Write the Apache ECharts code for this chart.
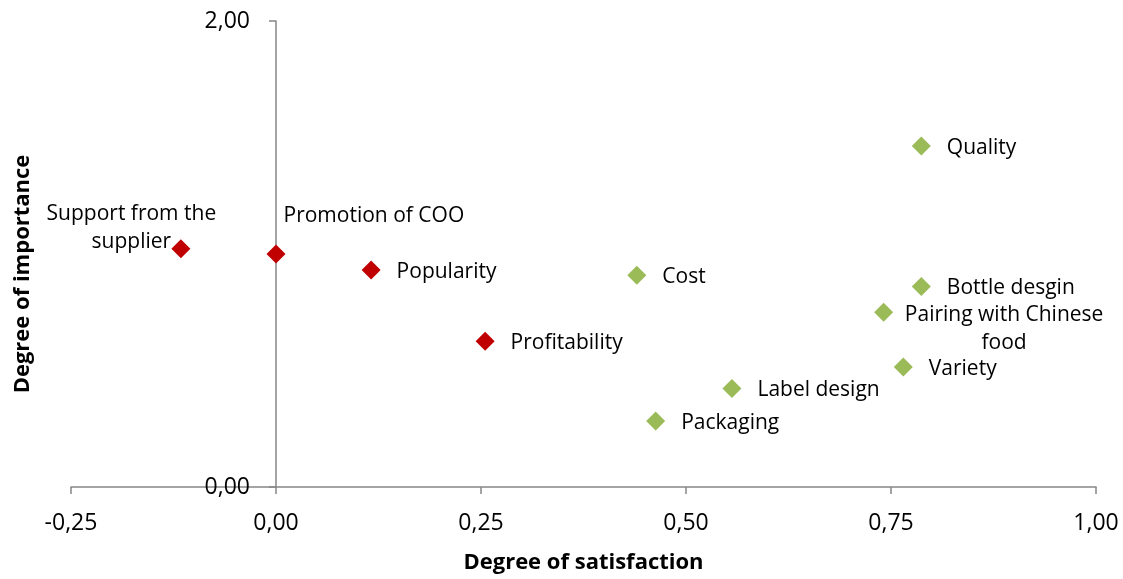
<!DOCTYPE html>
<html>
<head>
<meta charset="utf-8">
<script src="https://cdn.jsdelivr.net/npm/echarts@6/dist/echarts.min.js"></script>
<style>
  html, body { margin: 0; padding: 0; background: #fff; }
  #chart { width: 1123px; height: 579px; }
</style>
</head>
<body>
<div id="chart"></div>
<script>
// Attributes rated by satisfaction (x) and importance (y)
const weakNames = ['Support from the\nsupplier', 'Promotion of COO', 'Popularity', 'Profitability'];
const weakSatisfaction = [-0.116, 0.000, 0.116, 0.255];
const weakImportance = [1.023, 1.000, 0.931, 0.626];

const strongNames = ['Cost', 'Quality', 'Bottle desgin', 'Pairing with Chinese\nfood', 'Variety', 'Label design', 'Packaging'];
const strongSatisfaction = [0.440, 0.787, 0.787, 0.741, 0.765, 0.556, 0.463];
const strongImportance = [0.909, 1.464, 0.861, 0.750, 0.515, 0.423, 0.283];

const xTicks = { min: -0.25, max: 1.0, interval: 0.25 };
const yTicks = { min: 0, max: 2, interval: 2 };

const FONT = '"Open Sans", sans-serif';
const axisColor = '#868686';
const fmt = v => v.toFixed(2).replace('.', ',');

const gridLeft = 71, gridRight = 27;
const plotWidth = 1123 - gridLeft - gridRight;
// the vertical axis crosses the horizontal one at x = 0
const yAxisShift = -plotWidth * (0 - xTicks.min) / (xTicks.max - xTicks.min);

// Labels that don't sit plainly to the right of their marker
const labelOverrides = {
  'Support from the\nsupplier': { position: [-40, -13], align: 'center', verticalAlign: 'middle' },
  'Promotion of COO': { position: [17, -30], align: 'left', verticalAlign: 'middle' },
  'Pairing with Chinese\nfood': { position: [130, 24], align: 'center', verticalAlign: 'middle' }
};

function buildData(names, xs, ys) {
  return names.map((n, i) => {
    const item = { name: n, value: [xs[i], ys[i]] };
    if (labelOverrides[n]) item.label = labelOverrides[n];
    return item;
  });
}

const labelStyle = {
  show: true,
  position: 'right',
  distance: 16,
  offset: [0, 2],
  formatter: p => p.name,
  color: '#000',
  fontFamily: FONT,
  fontSize: 21,
  lineHeight: 28
};

const chart = echarts.init(document.getElementById('chart'));
chart.setOption({
  animation: false,
  backgroundColor: '#fff',
  grid: { left: gridLeft, right: gridRight, top: 21, bottom: 90 },
  xAxis: {
    type: 'value',
    min: xTicks.min, max: xTicks.max, interval: xTicks.interval,
    name: 'Degree of satisfaction',
    nameLocation: 'middle',
    nameGap: 65,
    nameTextStyle: { fontFamily: FONT, fontWeight: 'bold', fontSize: 22, color: '#000' },
    axisLine: { onZero: false, lineStyle: { color: axisColor, width: 1.5 } },
    axisTick: { show: true, length: 7, lineStyle: { color: axisColor, width: 1.5 } },
    axisLabel: { formatter: fmt, fontFamily: FONT, fontSize: 23, color: '#000', margin: 25 },
    splitLine: { show: false }
  },
  yAxis: {
    type: 'value',
    position: 'left',
    offset: yAxisShift,
    min: yTicks.min, max: yTicks.max, interval: yTicks.interval,
    axisLine: { onZero: false, lineStyle: { color: axisColor, width: 1.5 } },
    axisTick: { show: true, length: 7, lineStyle: { color: axisColor, width: 1.5 } },
    axisLabel: { formatter: fmt, fontFamily: FONT, fontSize: 23, color: '#000', margin: 26 },
    splitLine: { show: false }
  },
  graphic: [{
    type: 'text',
    x: 23, y: 274,
    rotation: Math.PI / 2,
    style: {
      text: 'Degree of importance',
      font: 'bold 22px ' + FONT,
      fill: '#000',
      textAlign: 'center',
      textVerticalAlign: 'middle'
    }
  }],
  series: [
    {
      type: 'scatter',
      symbol: 'diamond',
      symbolSize: 19,
      itemStyle: { color: '#C00000', opacity: 1 },
      label: labelStyle,
      data: buildData(weakNames, weakSatisfaction, weakImportance)
    },
    {
      type: 'scatter',
      symbol: 'diamond',
      symbolSize: 19,
      itemStyle: { color: '#9BBB59', opacity: 1 },
      label: labelStyle,
      data: buildData(strongNames, strongSatisfaction, strongImportance)
    }
  ]
});
</script>
</body>
</html>
